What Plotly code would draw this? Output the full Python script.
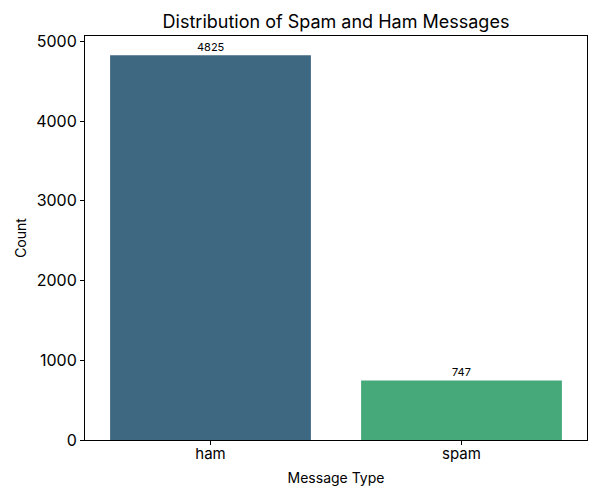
import plotly.graph_objects as go

categories = ["ham", "spam"]
counts = [4825, 747]
bar_colors = ["#3e6781", "#45a97a"]

# page body has an 8px margin, so the figure is sized/placed to compensate
W, H = 592, 492

fig = go.Figure()
fig.add_trace(go.Bar(x=categories, y=counts, marker_color=bar_colors,
                     marker_line_width=0, width=0.8))

# count labels sitting just above each bar
for cat, cnt in zip(categories, counts):
    fig.add_annotation(x=cat, y=cnt, text=str(cnt), showarrow=False,
                       yanchor="bottom", yshift=-1, font=dict(size=11, color="black"))

fig.update_layout(
    width=W, height=H,
    margin=dict(l=77, r=13, t=28, b=60, autoexpand=False),
    plot_bgcolor="white", paper_bgcolor="white",
    font=dict(family="Inter", color="black"),
    title=dict(text="Distribution of Spam and Ham Messages", x=(77 + 579) / 2 / W,
               xanchor="center", y=1 - 14 / H, yanchor="middle", font=dict(size=18)),
    showlegend=False,
)
fig.update_xaxes(title=dict(text="Message Type", font=dict(size=14), standoff=11),
                 automargin=False, ticklabelstandoff=-4,
                 range=[-0.5, 1.5], showline=True, linecolor="black", linewidth=1,
                 mirror=True, ticks="outside", ticklen=4, tickcolor="black",
                 tickfont=dict(size=15), showgrid=False)
fig.update_yaxes(title=dict(text="Count", font=dict(size=14), standoff=6),
                 automargin=False,
                 range=[0, 5066], showline=True, linecolor="black", linewidth=1,
                 mirror=True, ticks="outside", ticklen=4, tickcolor="black",
                 tickvals=[0, 1000, 2000, 3000, 4000, 5000],
                 tickfont=dict(size=16), showgrid=False, zeroline=False)

fig.write_html("out.html")
